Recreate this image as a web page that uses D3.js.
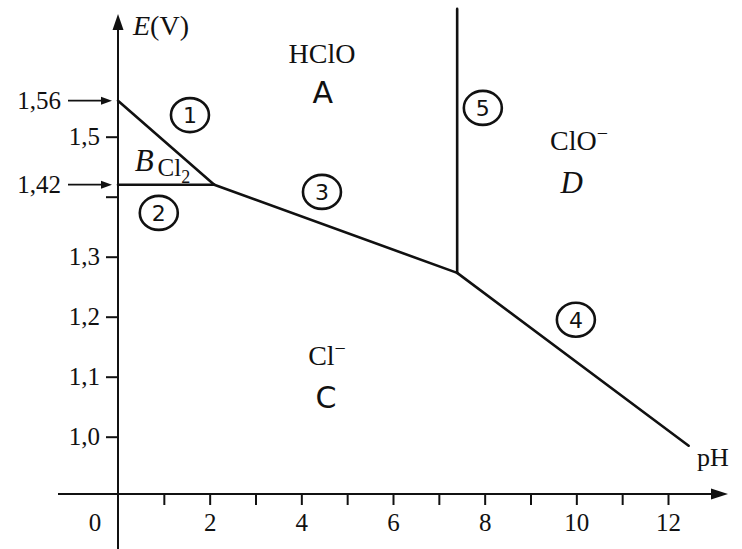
<!DOCTYPE html>
<html><head><meta charset="utf-8">
<script src="https://cdn.jsdelivr.net/npm/d3@7"></script>
<style>html,body{margin:0;padding:0;background:#fff;}svg{display:block;}</style>
</head><body>
<svg id="chart" width="742" height="549"></svg>
<script>
// ---- data ----
const pHTicks = [1,2,3,4,5,6,7,8,9,10,11,12];
const pHTickLabels = ["","2","","4","","6","","8","","10","","12"];
const eTicks = [1.0,1.1,1.2,1.3,1.4,1.5];
const eTickLabels = ["1,0","1,1","1,2","1,3","","1,5"];
const markedE = [1.56, 1.42];
const markedELabels = ["1,56","1,42"];
// boundary lines (pH, E)
const line1 = [[0,1.56],[2.1,1.42]];
const line2 = [[0,1.42],[2.1,1.42]];
const line3 = [[2.1,1.42],[7.4,1.273]];
const line4 = [[7.4,1.273],[12.45,0.985]];
const line5 = [[7.4,1.273],[7.4,1.713]];
const boundaries = [line1,line2,line3,line4,line5];
// circled line numbers
const circleNums = ["1","2","3","4","5"];
const circlePH = [1.57,0.89,4.45,9.99,7.96];
const circleE  = [1.536,1.373,1.408,1.195,1.548];
// species and domain letters
const speciesNames = ["HClO","Cl","ClO","Cl"];
const speciesSup = ["","","−","−"];
const speciesSub = ["","2","",""];
const speciesPH = [4.45,1.22,10.06,4.56];
const speciesE  = [1.6395,1.4495,1.4945,1.136];
const letters = ["A","B","C","D"];
const letterPH = [4.47,0.57,4.54,9.9];
const letterE  = [1.574,1.461,1.066,1.4245];

// ---- scales ----
const x = d3.scaleLinear().domain([0,12]).range([118,668]);
const y = d3.scaleLinear().domain([1.0,1.5]).range([436.7,136.7]);
const svg = d3.select("#chart");
const serif = "'Liberation Serif','Times New Roman',serif";
const axisY = 494;

// axes lines
const g = svg.append("g");
g.append("line").attr("x1",x(0)).attr("x2",x(0)).attr("y1",28).attr("y2",549)
  .attr("stroke","#111").attr("stroke-width",2);
g.append("path").attr("d",`M${x(0)},14 L${x(0)-5.5},30 L${x(0)+5.5},30 Z`).attr("fill","#111");
g.append("line").attr("x1",58).attr("x2",715).attr("y1",axisY).attr("y2",axisY)
  .attr("stroke","#111").attr("stroke-width",2);
g.append("path").attr("d",`M728,${axisY} L711,${axisY-5.5} L711,${axisY+5.5} Z`).attr("fill","#111");

// x axis ticks
const xAxis = d3.axisBottom(x).tickValues(pHTicks).tickSize(11).tickPadding(8)
  .tickFormat((d,i)=>pHTickLabels[i]);
const gx = svg.append("g").attr("transform",`translate(0,${axisY})`).call(xAxis);
gx.select(".domain").remove();
gx.selectAll(".tick line").attr("stroke","#111").attr("stroke-width",2);
gx.selectAll(".tick text").attr("font-family",serif).attr("font-size",25).attr("fill","#111");
svg.append("text").attr("x",x(0)-23).attr("y",axisY+19).attr("dy","0.71em")
  .attr("text-anchor","middle").attr("font-family",serif).attr("font-size",25).attr("fill","#111").text("0");

// y axis ticks
const yAxis = d3.axisLeft(y).tickValues(eTicks).tickSize(12).tickPadding(6)
  .tickFormat((d,i)=>eTickLabels[i]);
const gy = svg.append("g").attr("transform",`translate(${x(0)},0)`).call(yAxis);
gy.select(".domain").remove();
gy.selectAll(".tick line").attr("stroke","#111").attr("stroke-width",2);
gy.selectAll(".tick text").attr("font-family",serif).attr("font-size",25).attr("fill","#111");

// marked values with arrows
markedE.forEach((e,i)=>{
  const yy = y(e);
  svg.append("text").attr("x",61).attr("y",yy).attr("dy","0.35em").attr("text-anchor","end")
    .attr("font-family",serif).attr("font-size",25).attr("fill","#111").text(markedELabels[i]);
  svg.append("line").attr("x1",68).attr("x2",104).attr("y1",yy).attr("y2",yy)
    .attr("stroke","#111").attr("stroke-width",1.8);
  svg.append("path").attr("d",`M${x(0)-6},${yy} L${x(0)-17},${yy-4} L${x(0)-17},${yy+4} Z`).attr("fill","#111");
});

// axis titles
const et = svg.append("text").attr("x",133).attr("y",35).attr("font-family",serif).attr("font-size",28).attr("fill","#111");
et.append("tspan").attr("font-style","italic").text("E");
et.append("tspan").text("(V)");
svg.append("text").attr("x",697).attr("y",466).attr("font-family",serif).attr("font-size",26).attr("fill","#111").text("pH");

// boundary lines
const lineGen = d3.line().x(d=>x(d[0])).y(d=>y(d[1]));
svg.selectAll(".bnd").data(boundaries).enter().append("path").attr("class","bnd")
  .attr("d",lineGen).attr("fill","none").attr("stroke","#111").attr("stroke-width",2.6)
  .attr("stroke-linecap","round");

// circled numbers
circleNums.forEach((n,i)=>{
  const cx = x(circlePH[i]), cy = y(circleE[i]);
  svg.append("ellipse").attr("cx",cx).attr("cy",cy).attr("rx",19).attr("ry",17)
    .attr("fill","none").attr("stroke","#111").attr("stroke-width",2.6);
  svg.append("text").attr("x",cx).attr("y",cy).attr("dy","0.36em").attr("text-anchor","middle")
    .attr("font-family","'DejaVu Sans',sans-serif").attr("font-size",22)
    .attr("fill","#111").text(n);
});

// letters
letters.forEach((L,i)=>{
  const t = svg.append("text").attr("x",x(letterPH[i])).attr("y",y(letterE[i])).attr("dy","0.36em")
    .attr("text-anchor","middle").attr("fill","#111");
  if (L==="B"||L==="D") t.attr("font-family",serif).attr("font-style","italic").attr("font-size",31);
  else t.attr("font-family","'DejaVu Sans',sans-serif").attr("font-size",30);
  t.text(L);
});

// species labels
speciesNames.forEach((s,i)=>{
  const fs = i===1 ? 25 : 28;
  const t = svg.append("text").attr("x",x(speciesPH[i])).attr("y",y(speciesE[i])).attr("dy","0.35em")
    .attr("text-anchor","middle").attr("font-family",serif).attr("font-size",fs).attr("fill","#111");
  t.append("tspan").text(s);
  if (speciesSup[i]) t.append("tspan").attr("dy",-10).attr("font-size",20).text(speciesSup[i]);
  if (speciesSub[i]) t.append("tspan").attr("dy",7).attr("font-size",18).text(speciesSub[i]);
});
</script>
</body></html>
